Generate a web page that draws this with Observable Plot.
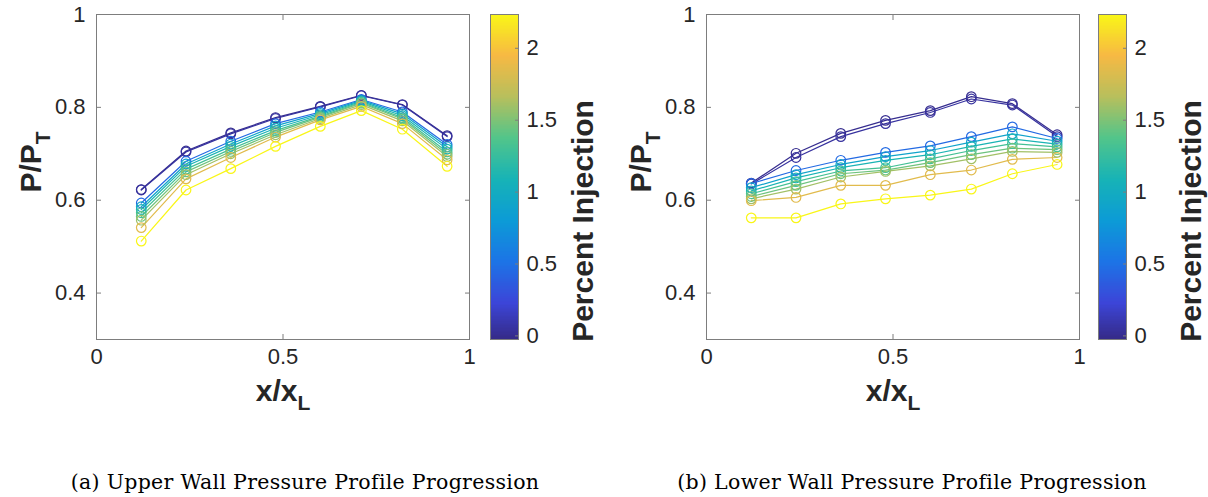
<!DOCTYPE html>
<html><head><meta charset="utf-8">
<script src="https://cdn.jsdelivr.net/npm/d3@7"></script>
<script src="https://cdn.jsdelivr.net/npm/@observablehq/plot@0.6"></script>
<style>
body{margin:0;background:#fff;}
#root{position:relative;width:1208px;height:497px;overflow:hidden;background:#fff;}
.panel{position:absolute;top:0;}
.panel svg{max-width:none !important;}
.panel g[aria-label$="tick label"]{font-size:22px !important;font-family:'Liberation Sans',Arial,sans-serif !important;}
.cap{position:absolute;top:470px;font-family:'DejaVu Serif',serif;font-size:20.5px;letter-spacing:0.3px;color:#000;white-space:nowrap;transform:translateX(-50%);}
</style></head><body><div id="root"></div>
<script>
// ---- data ----
const xPos = [0.12, 0.24, 0.36, 0.48, 0.60, 0.71, 0.82, 0.94];
const injection = [0, 0.05, 0.45, 0.9, 1.1, 1.3, 1.45, 1.6, 1.85, 2.23];
const upperWall = [
  [0.623, 0.706, 0.745, 0.778, 0.802, 0.826, 0.806, 0.739],
  [0.622, 0.704, 0.743, 0.776, 0.801, 0.825, 0.805, 0.737],
  [0.594, 0.684, 0.727, 0.765, 0.790, 0.817, 0.790, 0.720],
  [0.586, 0.678, 0.721, 0.760, 0.787, 0.815, 0.786, 0.715],
  [0.580, 0.673, 0.716, 0.755, 0.784, 0.813, 0.782, 0.710],
  [0.573, 0.667, 0.710, 0.750, 0.781, 0.811, 0.778, 0.704],
  [0.565, 0.661, 0.705, 0.746, 0.779, 0.809, 0.775, 0.699],
  [0.557, 0.655, 0.700, 0.741, 0.776, 0.806, 0.771, 0.694],
  [0.541, 0.646, 0.692, 0.736, 0.773, 0.802, 0.765, 0.687],
  [0.512, 0.622, 0.668, 0.716, 0.759, 0.793, 0.753, 0.673]
];
const lowerWall = [
  [0.637, 0.701, 0.744, 0.772, 0.793, 0.823, 0.808, 0.741],
  [0.635, 0.692, 0.737, 0.765, 0.789, 0.818, 0.805, 0.737],
  [0.636, 0.664, 0.686, 0.703, 0.717, 0.737, 0.758, 0.733],
  [0.627, 0.655, 0.677, 0.694, 0.707, 0.725, 0.743, 0.727],
  [0.620, 0.648, 0.670, 0.686, 0.698, 0.716, 0.732, 0.721],
  [0.614, 0.640, 0.663, 0.670, 0.689, 0.707, 0.722, 0.715],
  [0.608, 0.632, 0.657, 0.665, 0.681, 0.698, 0.712, 0.709],
  [0.603, 0.624, 0.650, 0.662, 0.674, 0.689, 0.705, 0.703],
  [0.599, 0.606, 0.632, 0.632, 0.655, 0.665, 0.688, 0.692],
  [0.562, 0.562, 0.592, 0.603, 0.611, 0.624, 0.657, 0.677]
];
const xTicks = [0, 0.5, 1];
const yTicks = [0.4, 0.6, 0.8, 1];
const cbTicks = [0, 0.5, 1, 1.5, 2];
const cbDomain = [-0.025, 2.235];
const parulaT = [0, 0.111, 0.238, 0.365, 0.492, 0.619, 0.746, 0.873, 1];
const parulaColors = ["#352a87", "#3c45d8", "#1c74e6", "#0c9bd6", "#17b3b6", "#52c58a", "#b8bf5c", "#f7b943", "#f9f716"];
const captions = ["(a) Upper Wall Pressure Profile Progression", "(b) Lower Wall Pressure Profile Progression"];

// ---- helpers ----
const frameGray = "#7d7d7d";
const textColor = "#262626";
const colorScale = {type: "linear", domain: parulaT.map(t => cbDomain[0] + t * (cbDomain[1] - cbDomain[0])), range: parulaColors};
const root = document.getElementById("root");

function place(svg, left, width) {
  const wrap = document.createElement("div");
  wrap.className = "panel";
  wrap.style.left = left + "px";
  wrap.style.width = width + "px";
  svg.style.maxWidth = "none";
  wrap.appendChild(svg);
  root.appendChild(wrap);
}

function mainPanel(values, left) {
  const rows = injection.flatMap((inj, i) => xPos.map((x, j) => ({series: i, inj, x, p: values[i][j]})));
  const svg = Plot.plot({
    width: 480, height: 420,
    marginLeft: 96, marginRight: 11, marginTop: 14, marginBottom: 81,
    style: {fontFamily: "'Liberation Sans', Arial, sans-serif", color: textColor, background: "transparent", overflow: "visible"},
    x: {domain: [0, 1]},
    y: {domain: [0.3, 1]},
    color: colorScale,
    marks: [
      Plot.frame({stroke: frameGray}),
      Plot.axisX(xTicks, {anchor: "bottom", tickSize: -5, tickPadding: 14, tickFormat: d => String(d), label: null, stroke: frameGray}),
      Plot.axisX(xTicks, {anchor: "top", tickSize: -5, tickFormat: () => "", label: null, stroke: frameGray}),
      Plot.axisY(yTicks, {anchor: "left", tickSize: -5, tickPadding: 16, tickFormat: d => String(d), label: null, stroke: frameGray}),
      Plot.axisY(yTicks, {anchor: "right", tickSize: -5, tickFormat: () => "", label: null, stroke: frameGray}),
      Plot.line(rows, {x: "x", y: "p", z: "series", stroke: "inj", strokeWidth: 1.2}),
      Plot.dot(rows, {x: "x", y: "p", stroke: "inj", r: 4.8, strokeWidth: 1.2, fill: "none"})
    ]
  });
  const s = d3.select(svg);
  const xl = s.append("text").attr("x", 283).attr("y", 401).attr("text-anchor", "middle")
    .attr("font-weight", "bold").attr("font-size", 30).attr("fill", textColor);
  xl.append("tspan").text("x/x");
  xl.append("tspan").attr("font-size", 21).attr("dy", 9).text("L");
  const yl = s.append("text").attr("transform", "translate(41,162) rotate(-90)").attr("text-anchor", "middle")
    .attr("font-weight", "bold").attr("font-size", 30).attr("fill", textColor);
  yl.append("tspan").text("P/P");
  yl.append("tspan").attr("font-size", 21).attr("dy", 9).text("T");
  place(svg, left, 480);
}

function colorBar(left) {
  const n = 240;
  const step = (cbDomain[1] - cbDomain[0]) / n;
  const bands = d3.range(n).map(i => ({y1: cbDomain[0] + i * step, y2: cbDomain[0] + (i + 1) * step, v: cbDomain[0] + (i + 0.5) * step}));
  const svg = Plot.plot({
    width: 120, height: 420,
    marginLeft: 10, marginRight: 82, marginTop: 14, marginBottom: 81,
    style: {fontFamily: "'Liberation Sans', Arial, sans-serif", color: textColor, background: "transparent", overflow: "visible"},
    x: {domain: [0, 1], axis: null},
    y: {domain: cbDomain},
    color: colorScale,
    marks: [
      Plot.rect(bands, {x1: 0, x2: 1, y1: "y1", y2: "y2", fill: "v", shapeRendering: "crispEdges"}),
      Plot.frame({stroke: frameGray}),
      Plot.axisY(cbTicks, {anchor: "right", tickSize: -4, tickPadding: 12, tickFormat: d => String(d), label: null, stroke: frameGray})
    ]
  });
  d3.select(svg).append("text").attr("transform", "translate(113,221) rotate(-90)").attr("text-anchor", "middle")
    .attr("font-weight", "bold").attr("font-size", 30).attr("fill", textColor).text("Percent Injection");
  place(svg, left, 120);
}

mainPanel(upperWall, 0);
colorBar(480);
mainPanel(lowerWall, 610);
colorBar(1088);

[305, 912].forEach((cx, i) => {
  const d = document.createElement("div");
  d.className = "cap";
  d.style.left = cx + "px";
  d.textContent = captions[i];
  root.appendChild(d);
});
</script></body></html>
